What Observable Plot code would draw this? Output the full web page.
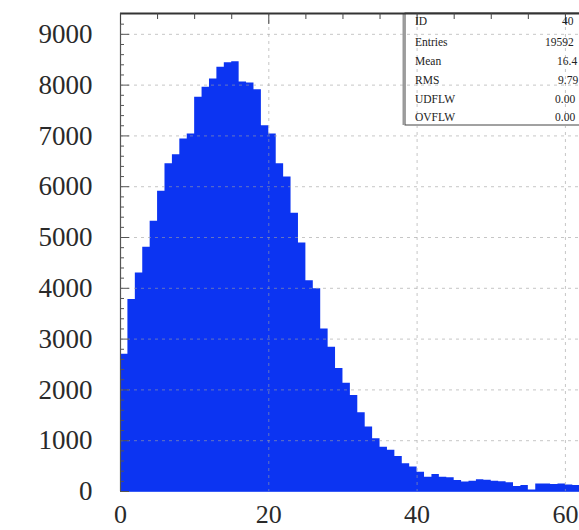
<!DOCTYPE html>
<html>
<head>
<meta charset="utf-8">
<script src="https://cdn.jsdelivr.net/npm/d3@7"></script>
<script src="https://cdn.jsdelivr.net/npm/@observablehq/plot@0.6"></script>
<style>
  html, body { margin: 0; padding: 0; background: #fff; overflow: hidden; }
  #chart svg { display: block; }
</style>
</head>
<body>
<div id="chart"></div>
<script>
// Histogram: one entry per unit-wide bin, starting at 0
const binStart = 0;
const binWidth = 1;
const counts = [
  2700, 3780, 4300, 4810, 5320, 5910, 6450, 6630, 6940, 7040,
  7760, 7960, 8120, 8350, 8440, 8460, 8060, 8040, 7910, 7200,
  7040, 6450, 6190, 5480, 4890, 4150, 3990, 3200, 2840, 2420,
  2130, 1890, 1550, 1270, 1040, 870, 810, 690, 545, 480,
  380, 280, 335, 280, 270, 215, 185, 200, 230, 220,
  200, 190, 170, 100, 120, 30, 150, 150, 140, 150,
  130, 120
];

// Axis ticks
const xTicks = [0, 20, 40, 60];
const xMinorTicks = [5, 10, 15, 25, 30, 35, 45, 50, 55];
const yTicks = [0, 1000, 2000, 3000, 4000, 5000, 6000, 7000, 8000, 9000];
const yMinorTicks = d3.range(200, 9400, 200).filter(v => v % 1000 !== 0);
const gridX = [20, 40, 60];
const gridY = [1000, 2000, 3000, 4000, 5000, 6000, 7000, 8000, 9000];

// Statistics box rows
const statLabels = ["ID", "Entries", "Mean", "RMS", "UDFLW", "OVFLW"];
const statValues = ["40", "19592", "16.4", "9.79", "0.00", "0.00"];

// Step outline: each bin's left edge, plus the right edge of the last bin
const steps = counts.map((n, i) => ({x: binStart + i * binWidth, n}));
steps.push({x: binStart + counts.length * binWidth, n: counts[counts.length - 1]});

const W = 579, H = 530;
const mL = 120, mR = 0, mT = 13, mB = 39;
const plotW = W - mL - mR, plotH = H - mT - mB;
const serif = "'Liberation Serif', 'DejaVu Serif', serif";

// Stats panel in the upper-right corner of the frame
const boxLeft = 405, boxBottom = 125;
const rowY = [21, 42, 61, 80, 99, 117];
const valueX = [562, 545, 557, 558, 555, 555];

const statsBox = () => {
  const g = d3.create("svg:g");
  g.append("rect")
    .attr("x", boxLeft).attr("y", mT)
    .attr("width", W - boxLeft + 20).attr("height", boxBottom - mT)
    .attr("fill", "#fff").attr("stroke", "#444").attr("stroke-width", 1);
  g.append("line")
    .attr("x1", boxLeft - 1.5).attr("x2", boxLeft - 1.5)
    .attr("y1", mT).attr("y2", boxBottom)
    .attr("stroke", "#999").attr("stroke-width", 2);
  return g.node();
};

const statsText = () => {
  const g = d3.create("svg:g")
    .attr("font-family", serif)
    .attr("font-size", 11.5)
    .attr("text-anchor", "start")
    .attr("fill", "#222");
  statLabels.forEach((label, i) => {
    g.append("text").attr("x", 415).attr("y", rowY[i]).attr("dy", "0.35em").text(label);
    g.append("text").attr("x", valueX[i]).attr("y", rowY[i]).attr("dy", "0.35em").text(statValues[i]);
  });
  return g.node();
};

const chart = Plot.plot({
  width: W,
  height: H,
  marginLeft: mL,
  marginRight: mR,
  marginTop: mT,
  marginBottom: mB,
  style: {fontFamily: serif, fontSize: "26px", color: "#2a2a2a", background: "#fff", overflow: "hidden"},
  x: {domain: [0, 61.9], axis: null},
  y: {domain: [0, 9410], axis: null},
  marks: [
    Plot.areaY(steps, {x: "x", y: "n", curve: "step-after", fill: "#0c34f2"}),
    statsBox,
    Plot.ruleX(gridX, {stroke: "#a0a0a0", strokeWidth: 1, strokeDasharray: "3,4", strokeOpacity: 0.6}),
    Plot.ruleY(gridY, {stroke: "#a0a0a0", strokeWidth: 1, strokeDasharray: "3,4", strokeOpacity: 0.6}),
    // frame lines
    Plot.ruleY([9410], {stroke: "#333", strokeWidth: 2}),
    Plot.ruleX([0], {stroke: "#555", strokeWidth: 1.2}),
    Plot.ruleY([0], {stroke: "#3a5cf5", strokeWidth: 1}),
    // inward ticks on the left axis
    Plot.ruleY(yMinorTicks, {stroke: "#555", strokeWidth: 1, insetRight: plotW - 4}),
    Plot.ruleY(yTicks, {stroke: "#555", strokeWidth: 1, insetRight: plotW - 9}),
    // ticks hanging from the top edge
    Plot.ruleX(xMinorTicks, {stroke: "#444", strokeWidth: 1, insetBottom: plotH - 6}),
    Plot.ruleX(xTicks, {stroke: "#444", strokeWidth: 1, insetBottom: plotH - 11}),
    Plot.axisY(yTicks, {anchor: "left", label: null, tickFormat: d3.format("d"), tickSize: 0, tickPadding: 28, fontSize: 27, fill: "#2a2a2a"}),
    Plot.axisX(xTicks, {anchor: "bottom", label: null, tickFormat: d3.format("d"), tickSize: 0, tickPadding: 13, fontSize: 26, fill: "#2a2a2a"}),
    statsText
  ]
});

document.getElementById("chart").appendChild(chart);
</script>
</body>
</html>
